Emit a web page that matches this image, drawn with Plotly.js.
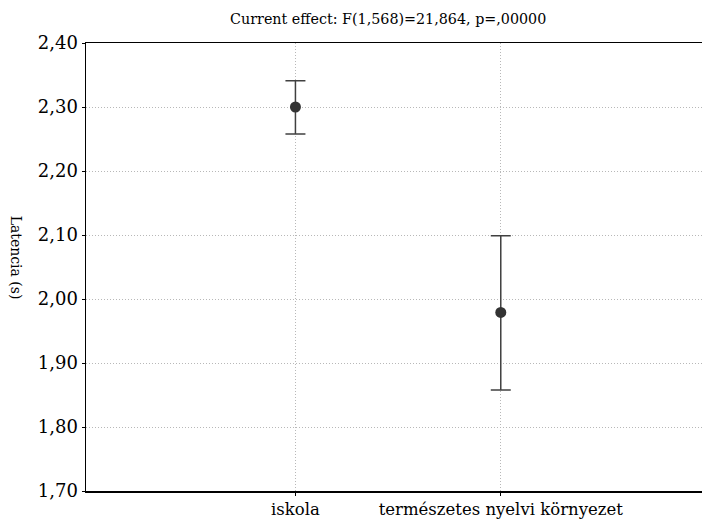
<!DOCTYPE html>
<html><head><meta charset="utf-8">
<script src="https://cdn.plot.ly/plotly-3.0.1.min.js"></script>
<style>body{margin:0;background:#fff}#chart{width:702px;height:523px}</style>
</head><body><div id="chart"></div>
<script>
const categories = ["iskola", "természetes nyelvi környezet"];
const means = [2.300, 1.979];
const upper = [2.341, 2.099];
const lower = [2.258, 1.858];
const yTicks = [1.70, 1.80, 1.90, 2.00, 2.10, 2.20, 2.30, 2.40];

const xIdx = categories.map((c, i) => i);
const trace = {
  x: xIdx, y: means, type: 'scatter', mode: 'markers',
  marker: {color: '#333333', size: 11},
  error_y: {type: 'data', symmetric: false,
    array: upper.map((u, i) => u - means[i]),
    arrayminus: lower.map((l, i) => means[i] - l),
    color: '#404040', thickness: 1.5, width: 10},
  hoverinfo: 'skip'
};
const fam = "DejaVu Serif";
const font = {family: fam, color: '#000'};
const layout = {
  width: 702, height: 523,
  margin: {l: 86, r: 0, t: 43, b: 32},
  separators: ', ',
  font: {family: fam, color: '#000'},
  paper_bgcolor: '#fff', plot_bgcolor: '#fff',
  showlegend: false,
  title: {text: 'Current effect: F(1,568)=21,864, p=,00000', font: Object.assign({size: 14.3}, font), x: 0.553, xanchor: 'center', y: 0.963, yanchor: 'middle'},
  xaxis: {range: [-1.02, 1.98], tickvals: xIdx, ticktext: categories, tickfont: Object.assign({size: 16.5}, font),
    showgrid: true, gridcolor: '#b8b8b8', griddash: '1px,2px', gridwidth: 1,
    showline: true, linecolor: '#000', linewidth: 1.5, mirror: true,
    ticks: 'outside', ticklen: 3, tickcolor: '#000', zeroline: false, fixedrange: true},
  yaxis: {range: [1.70, 2.40], tickvals: yTicks, tickformat: '.2f', tickfont: Object.assign({size: 18}, font),
    showgrid: true, gridcolor: '#b8b8b8', griddash: '1px,2px', gridwidth: 1,
    showline: true, linecolor: '#000', linewidth: 1.5, mirror: false,
    ticks: 'outside', ticklen: 3, tickcolor: '#000', zeroline: false, fixedrange: true},
  annotations: [{text: 'Latencia (s)', textangle: 90, xref: 'paper', yref: 'paper', x: -0.113, y: 0.52,
    xanchor: 'center', yanchor: 'middle', showarrow: false, font: Object.assign({size: 14}, font)}]
};
Plotly.newPlot('chart', [trace], layout, {staticPlot: true, displayModeBar: false});
</script></body></html>
